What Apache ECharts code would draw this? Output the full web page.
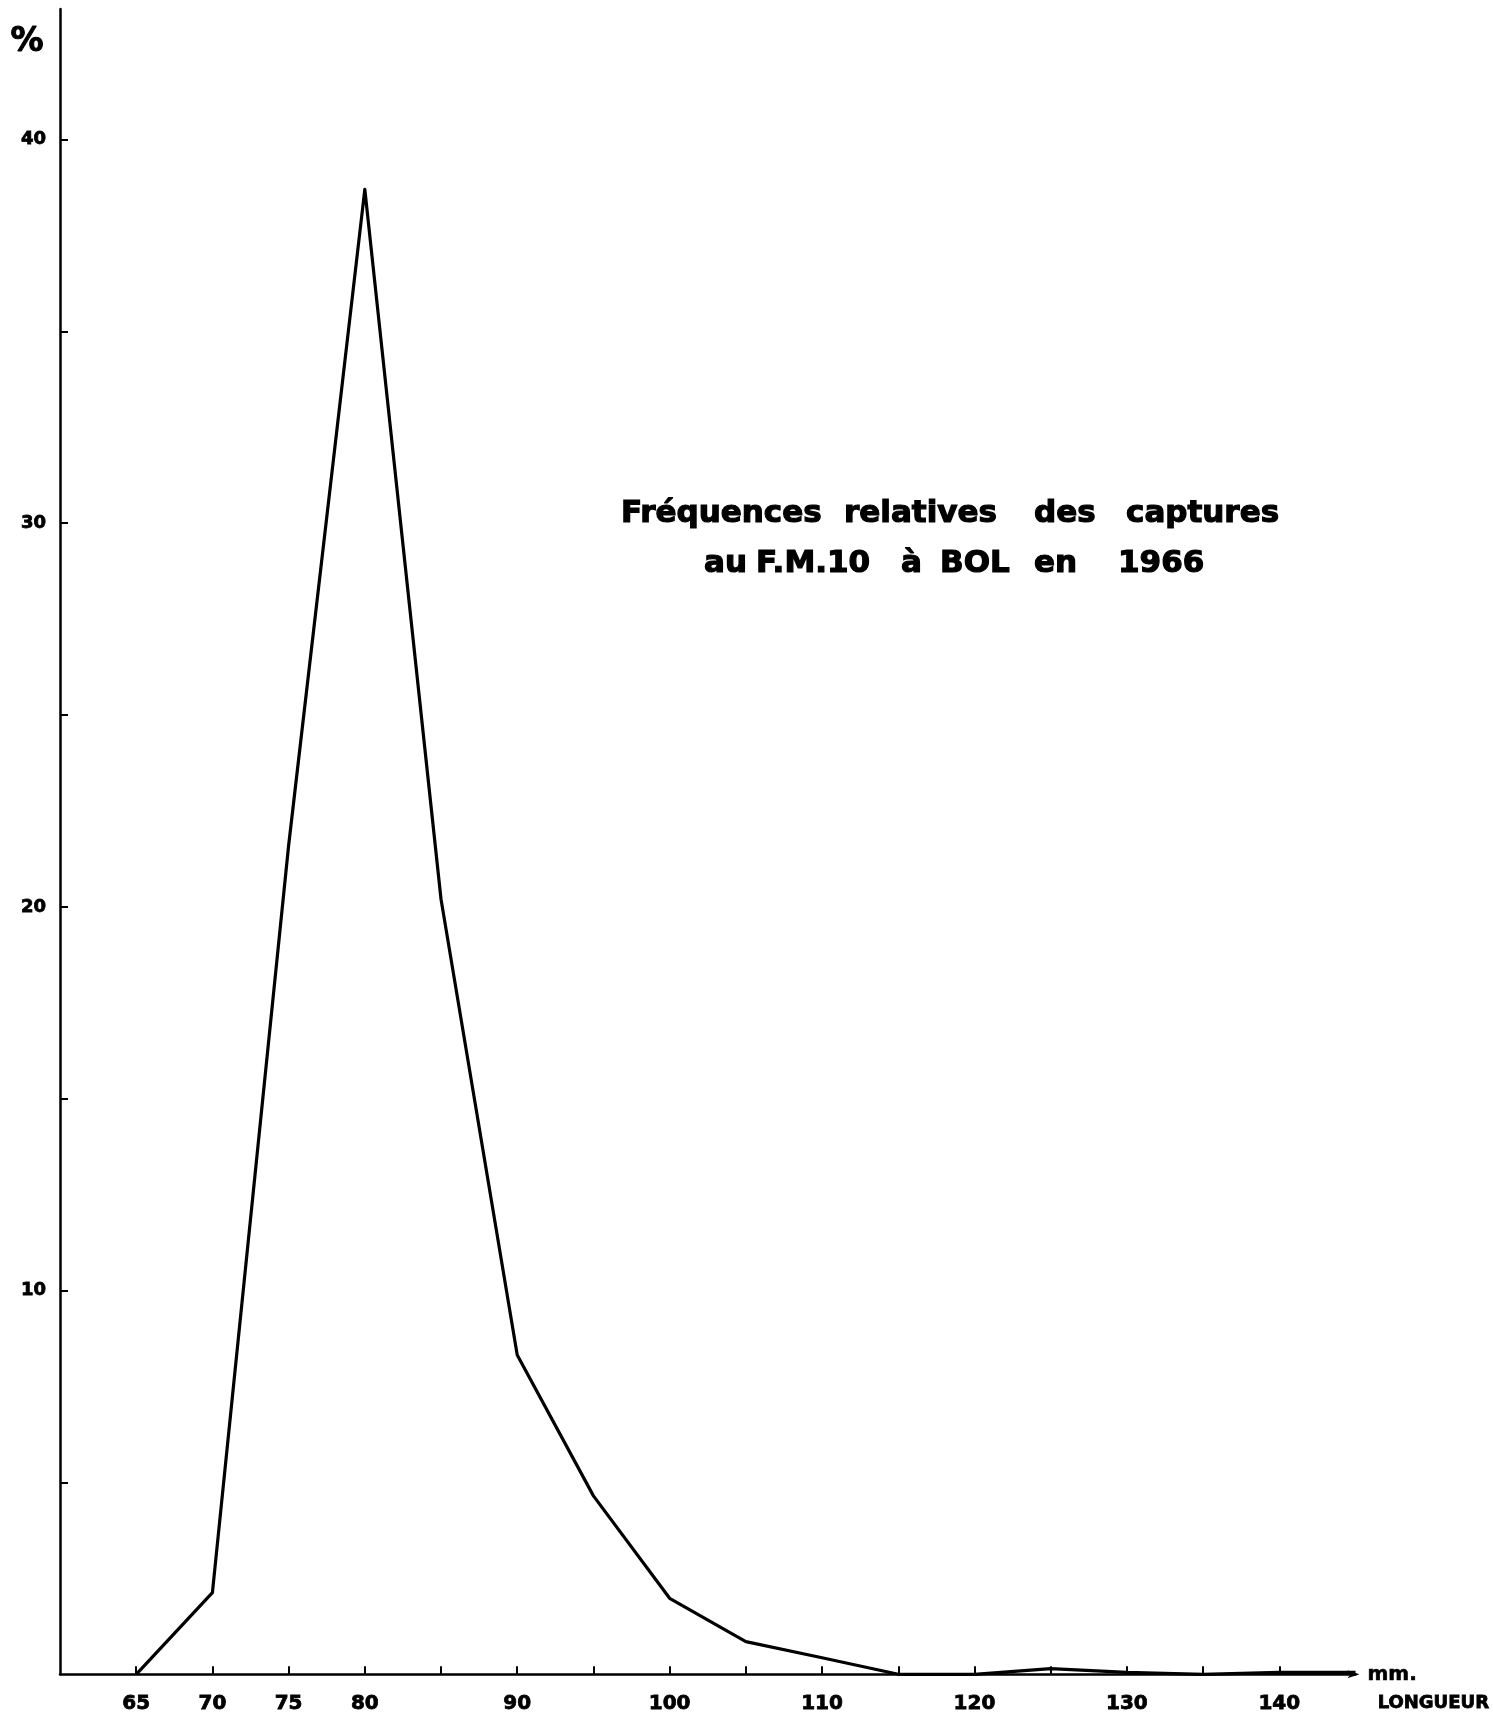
<!DOCTYPE html>
<html>
<head>
<meta charset="utf-8">
<script src="https://cdn.jsdelivr.net/npm/echarts@6/dist/echarts.min.js"></script>
<style>
html,body{margin:0;padding:0;background:#fff;}
#chart{width:1493px;height:1723px;}
</style>
</head>
<body>
<div id="chart"></div>
<script>
// Length classes (mm) and relative frequency of captures (%)
const lengths = [65, 70, 75, 80, 85, 90, 95, 100, 105, 110, 115, 120, 125, 130, 135, 140, 145];
const freq    = [0, 2.13, 21.6, 38.7, 20.2, 8.32, 4.65, 1.98, 0.85, 0.43, 0, 0, 0.15, 0.05, 0, 0.05, 0.05];
const xTicks  = [65, 70, 75, 80, 85, 90, 95, 100, 105, 110, 115, 120, 125, 130, 135, 140];
const xLabels = [65, 70, 75, 80, 90, 100, 110, 120, 130, 140];
const yTicks  = [5, 10, 15, 20, 25, 30, 35, 40];
const yLabels = [10, 20, 30, 40];
const titleLine1 = ['Fréquences', 'relatives', 'des', 'captures'];
const titleLine2 = ['au', 'F.M.10', 'à', 'BOL', 'en', '1966'];

const FONT = 'DejaVu Sans';
const TFONT = 'bold 31px "DejaVu Sans"';
// layout: left edge of each title word (px)
const line1X = [621, 844, 1034, 1126];
const line2X = [704, 756, 901, 940, 1034, 1118];

const graphics = [
  {type: 'text', left: 10, top: 25, style: {text: '%', fill: '#000', stroke: '#000', lineWidth: 1, font: 'bold 33px "DejaVu Sans"'}},
  {type: 'text', x: 1489, y: 1703, style: {text: 'LONGUEUR', fill: '#000', stroke: '#000', lineWidth: 0.8, font: 'bold 18px "DejaVu Sans"', textAlign: 'right', textVerticalAlign: 'middle'}}
];
titleLine1.forEach((w, i) => graphics.push({type: 'text', x: line1X[i], y: 514, style: {text: w, fill: '#000', stroke: '#000', lineWidth: 1.2, font: TFONT, textAlign: 'left', textVerticalAlign: 'middle'}}));
titleLine2.forEach((w, i) => graphics.push({type: 'text', x: line2X[i], y: 564, style: {text: w, fill: '#000', stroke: '#000', lineWidth: 1.2, font: TFONT, textAlign: 'left', textVerticalAlign: 'middle'}}));

const chart = echarts.init(document.getElementById('chart'), null, {renderer: 'canvas'});
chart.setOption({
  backgroundColor: '#ffffff',
  animation: false,
  grid: {left: 60, right: 137.5, top: 9, bottom: 48.7, containLabel: false},
  xAxis: {
    type: 'value', min: 60, max: 145,
    axisLine: {show: true, lineStyle: {color: '#000', width: 2.5}, symbol: ['none', 'arrow'], symbolSize: [6, 12], symbolOffset: [0, 4]},
    axisTick: {show: true, inside: true, length: 8, lineStyle: {color: '#000', width: 2}, customValues: xTicks},
    axisLabel: {show: true, customValues: xLabels, margin: 19, color: '#000', fontFamily: FONT, fontWeight: 'bold', fontSize: 20, textBorderColor: '#000', textBorderWidth: 0.8},
    splitLine: {show: false},
    name: 'mm.', nameLocation: 'end', nameGap: 12,
    nameTextStyle: {color: '#000', fontFamily: FONT, fontWeight: 'bold', fontSize: 20, verticalAlign: 'middle', textBorderColor: '#000', textBorderWidth: 0.6}
  },
  yAxis: {
    type: 'value', min: 0, max: 43.4,
    axisLine: {show: true, lineStyle: {color: '#000', width: 2.5}},
    axisTick: {show: true, inside: true, length: 8, lineStyle: {color: '#000', width: 2}, customValues: yTicks},
    axisLabel: {show: true, customValues: yLabels, margin: 14, color: '#000', fontFamily: FONT, fontWeight: 'bold', fontSize: 18, textBorderColor: '#000', textBorderWidth: 0.8},
    splitLine: {show: false}
  },
  series: [{
    type: 'line',
    data: lengths.map((l, i) => [l, freq[i]]),
    symbol: 'none',
    lineStyle: {color: '#000', width: 3.2, join: 'round'},
    z: 3
  }],
  graphic: graphics
});
</script>
</body>
</html>
